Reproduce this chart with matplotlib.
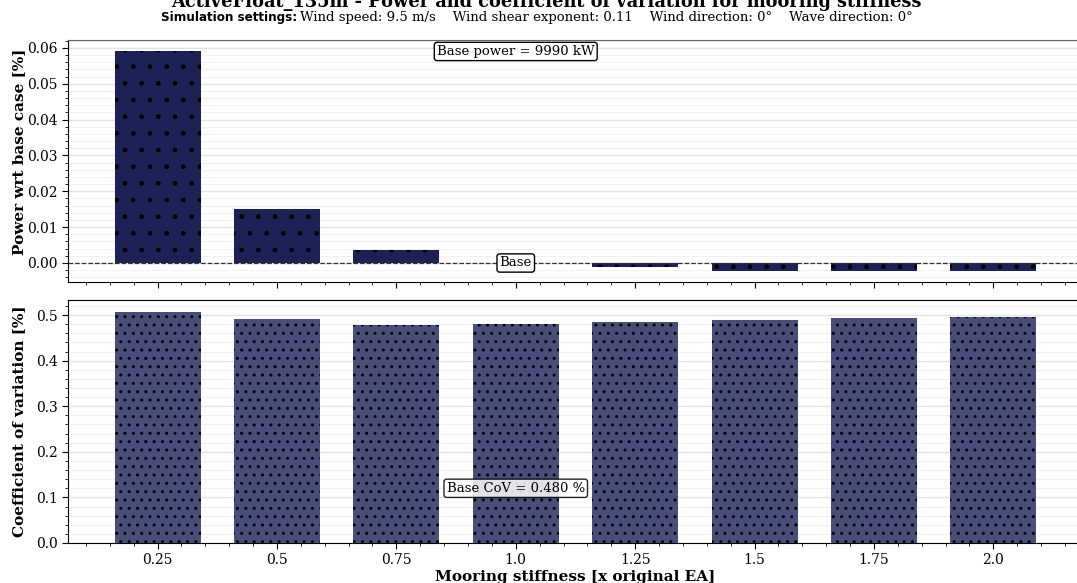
import matplotlib
matplotlib.use("Agg")
import matplotlib.pyplot as plt
from matplotlib.ticker import AutoMinorLocator, MultipleLocator, FormatStrFormatter

# Mooring stiffness multipliers and results
stiffness_labels = ["0.25", "0.5", "0.75", "1.0", "1.25", "1.5", "1.75", "2.0"]
power_delta = [0.0590, 0.0152, 0.0035, 0.0, -0.0012, -0.0022, -0.0022, -0.0022]
cov_values = [0.507, 0.492, 0.478, 0.480, 0.485, 0.489, 0.493, 0.496]
base_power_kw = 9990
base_cov = 0.480

plt.rcParams["font.family"] = "DejaVu Serif"
plt.rcParams["hatch.linewidth"] = 1.0

W, H = 1077, 583
fig = plt.figure(figsize=(W / 100, H / 100), dpi=100)

left = 68 / W
width = 8.5 * 119.4 / W
ax1 = fig.add_axes([left, 1 - 282 / H, width, (282 - 40) / H])
ax2 = fig.add_axes([left, 1 - 543 / H, width, (543 - 300) / H], sharex=ax1)

x = list(range(len(stiffness_labels)))
top_color = "#1c2156"
bot_color = "#4a4e7b"

ax1.bar(x, power_delta, width=0.72, color=top_color, edgecolor="black",
        linewidth=0, hatch=".", zorder=3)
ax2.bar(x, cov_values, width=0.72, color=bot_color, edgecolor="black",
        linewidth=0, hatch="..", zorder=3)

ax1.axhline(0, color="#333333", linestyle="--", linewidth=0.9, zorder=4)

for ax in (ax1, ax2):
    ax.set_xlim(-0.75, 7.75)
    ax.xaxis.set_minor_locator(AutoMinorLocator(5))
    ax.yaxis.set_minor_locator(AutoMinorLocator(5))
    ax.grid(True, which="major", axis="y", color="#e3e3e3", linewidth=1.0, zorder=0)
    ax.grid(True, which="minor", axis="y", color="#f1f1f1", linewidth=0.8, zorder=0)
    ax.set_axisbelow(True)
    ax.spines["right"].set_visible(False)
    ax.tick_params(axis="both", which="major", labelsize=10, length=4)
    ax.tick_params(axis="both", which="minor", length=2)

ax1.spines["top"].set_color("#666666")
ax1.set_ylim(-0.0053, 0.0622)
ax1.yaxis.set_major_locator(MultipleLocator(0.01))
ax1.yaxis.set_major_formatter(FormatStrFormatter("%.2f"))
ax1.tick_params(axis="x", labelbottom=False)

ax2.set_ylim(0, 0.533)
ax2.yaxis.set_major_locator(MultipleLocator(0.1))
ax2.set_xticks(x)
ax2.set_xticklabels(stiffness_labels)

ax1.set_ylabel("Power wrt base case [%]", fontsize=11, fontweight="bold")
ax2.set_ylabel("Coefficient of variation [%]", fontsize=11, fontweight="bold")
ax2.set_xlabel("Mooring stiffness [x original EA]", fontsize=11, fontweight="bold",
               labelpad=2)
ax1.yaxis.set_label_coords(-0.041, 0.54)
ax2.yaxis.set_label_coords(-0.041, 0.5)

box = dict(boxstyle="round,pad=0.2", facecolor="white", edgecolor="black")
ax1.text(3, 0.0590, f"Base power = {base_power_kw} kW", ha="center", va="center",
         fontsize=9.5, zorder=6, bbox=box)
ax1.text(3, 0, "Base", ha="center", va="center", fontsize=9.5, zorder=6, bbox=box)
ax2.text(3, 0.12, f"Base CoV = {base_cov:.3f} %", ha="center", va="center",
         fontsize=9.5, zorder=6,
         bbox=dict(boxstyle="round,pad=0.2", facecolor="white", alpha=0.85,
                   edgecolor="black"))

fig.text(546 / W, 1 - 2 / H,
         "ActiveFloat_135m - Power and coefficient of variation for mooring stiffness",
         ha="center", va="center", fontsize=12.8, fontweight="bold")
fig.text(297 / W, 1 - 18 / H, "Simulation settings:", ha="right", va="center",
         fontsize=9.5, fontweight="bold", family="DejaVu Sans",
         fontstretch="condensed")
fig.text(300 / W, 1 - 18 / H,
         "Wind speed: 9.5 m/s    Wind shear exponent: 0.11    "
         "Wind direction: 0°    Wave direction: 0°",
         ha="left", va="center", fontsize=9.5)

fig.savefig("out.png", dpi=100)
